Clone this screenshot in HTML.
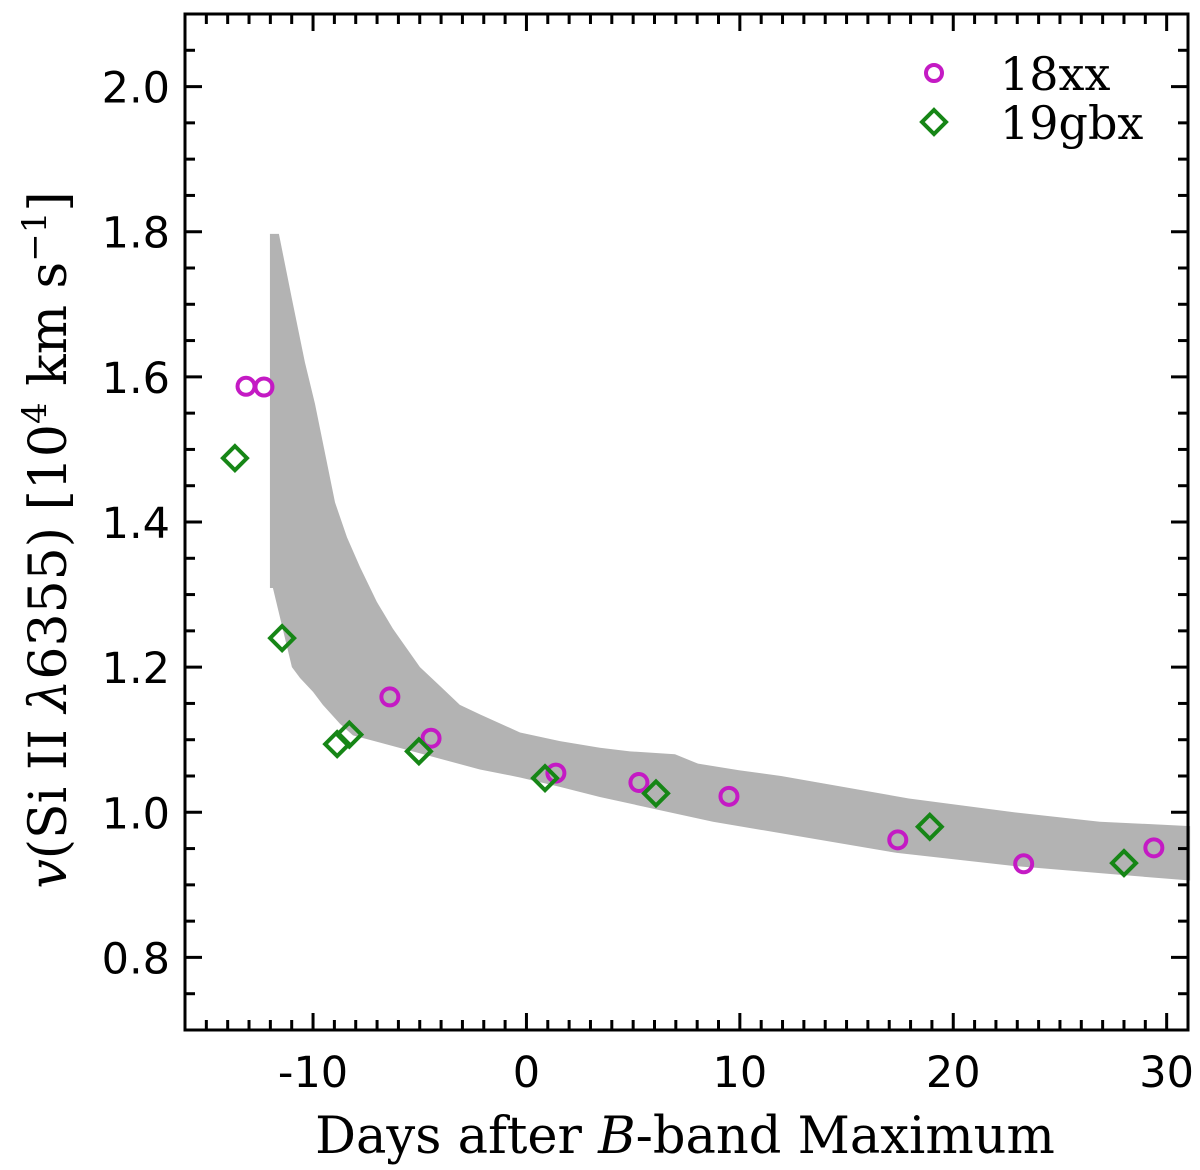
<!DOCTYPE html>
<html><head><meta charset="utf-8"><style>
body{margin:0;background:#fff}
svg{display:block}
</style></head><body>
<svg id="chart" width="1200" height="1170" xmlns="http://www.w3.org/2000/svg">
<g id="band"></g>
<g id="pts"></g>
<rect x="185" y="14" width="1003" height="1016" fill="none" stroke="#000" stroke-width="3"/>
<g id="ticks"></g>
<g>
<circle cx="934" cy="73" r="8" fill="none" stroke="#c41ac4" stroke-width="4"/>
<text x="1000" y="90" font-family="DejaVu Serif, serif" font-size="46">18xx</text>
<polygon points="934,110 946,122 934,134 922,122" fill="none" stroke="#168616" stroke-width="4"/>
<text x="1000" y="139" font-family="DejaVu Serif, serif" font-size="46">19gbx</text>
</g>
<text x="685" y="1153" text-anchor="middle" font-family="DejaVu Serif, serif" font-size="51">Days after <tspan font-style="italic">B</tspan>-band Maximum</text>
<text transform="translate(66,540) rotate(-90)" text-anchor="middle" font-family="DejaVu Serif, serif" font-size="52"><tspan font-style="italic">v</tspan>(Si II <tspan font-style="italic">λ</tspan>6355) [10<tspan baseline-shift="super" font-size="34">4</tspan> km s<tspan baseline-shift="super" font-size="34">−1</tspan>]</text>
</svg>
<script>
const bandUpperX=[-12.02,-11.6,-11.0,-10.38,-9.91,-8.97,-8.41,-7.80,-7.01,-6.26,-4.99,-4.05,-3.12,-2.18,-0.30,1.57,3.44,4.85,6.96,8.04,9.96,11.93,17.92,22.84,26.87,31.1];
const bandUpperY=[1.797,1.797,1.709,1.620,1.563,1.427,1.379,1.338,1.290,1.253,1.200,1.174,1.148,1.135,1.110,1.098,1.089,1.084,1.080,1.067,1.058,1.050,1.019,1.000,0.987,0.981];
const bandLowerX=[31.1,28.14,22.84,17.36,8.74,3.44,1.57,-0.30,-2.18,-8.13,-8.74,-9.54,-10.0,-10.61,-10.99,-11.88,-12.02];
const bandLowerY=[0.906,0.913,0.926,0.944,0.987,1.021,1.035,1.048,1.059,1.106,1.122,1.148,1.166,1.185,1.200,1.309,1.309];
const sn18xxX=[-13.14,-12.3,-6.4,-4.47,1.38,5.27,9.49,17.4,23.3,29.4];
const sn18xxY=[1.587,1.586,1.159,1.102,1.054,1.041,1.022,0.962,0.929,0.951];
const sn19gbxX=[-13.66,-11.45,-8.87,-8.3,-5.04,0.87,6.07,18.9,28.0];
const sn19gbxY=[1.488,1.240,1.094,1.107,1.084,1.047,1.026,0.980,0.930];
const xTicks=[-10,0,10,20,30];
const xTickLabels=["-10","0","10","20","30"];
const yTicks=[0.8,1.0,1.2,1.4,1.6,1.8,2.0];
const yTickLabels=["0.8","1.0","1.2","1.4","1.6","1.8","2.0"];

const X0=185,X1=1188,Y0=1030,Y1=14,xmin=-16,xmax=31,ymin=0.7,ymax=2.1;
const sx=v=>X0+(v-xmin)/(xmax-xmin)*(X1-X0);
const sy=v=>Y0-(v-ymin)/(ymax-ymin)*(Y0-Y1);
const NS="http://www.w3.org/2000/svg";
function mk(tag,parent){const e=document.createElementNS(NS,tag);parent.appendChild(e);return e;}

const band=document.getElementById('band');
const poly=mk('polygon',band);


let pts=[];
bandUpperX.forEach((x,i)=>pts.push(sx(x)+','+sy(bandUpperY[i])));
bandLowerX.forEach((x,i)=>pts.push(sx(x)+','+sy(bandLowerY[i])));
poly.setAttribute('points',pts.join(' '));
poly.setAttribute('fill','#b3b3b3');

const g=document.getElementById('pts');
sn18xxX.forEach((x,i)=>{
  const c=mk('circle',g);
  
  
  c.setAttribute('cx',sx(x));c.setAttribute('cy',sy(sn18xxY[i]));c.setAttribute('r',8.5);
  c.setAttribute('fill','none');c.setAttribute('stroke','#c41ac4');c.setAttribute('stroke-width',4);
});
sn19gbxX.forEach((x,i)=>{
  const px=sx(x),py=sy(sn19gbxY[i]),d=12;
  const p=mk('polygon',g);
  
  
  p.setAttribute('points',`${px},${py-d} ${px+d},${py} ${px},${py+d} ${px-d},${py}`);
  p.setAttribute('fill','none');p.setAttribute('stroke','#168616');p.setAttribute('stroke-width',4);
});

const t=document.getElementById('ticks');
function line(x1,y1,x2,y2){const l=mk('line',t);l.setAttribute('x1',x1);l.setAttribute('y1',y1);l.setAttribute('x2',x2);l.setAttribute('y2',y2);l.setAttribute('stroke','#000');l.setAttribute('stroke-width',3);}
for(let d=xmin;d<=xmax;d++){const L=(d%10===0)?17:10;const x=sx(d);line(x,Y0,x,Y0-L);line(x,Y1,x,Y1+L);}
for(let k=14;k<=42;k++){const v=k*0.05;const L=(k%4===0)?17:10;const y=sy(v);line(X0,y,X0+L,y);line(X1,y,X1-L,y);}
xTicks.forEach((v,i)=>{const e=mk('text',t);
  
  
  e.setAttribute('x',sx(v));e.setAttribute('y',1087);e.setAttribute('text-anchor','middle');
  e.setAttribute('font-family','DejaVu Sans, sans-serif');e.setAttribute('font-size',43);e.textContent=xTickLabels[i];});
yTicks.forEach((v,i)=>{const e=mk('text',t);
  
  
  e.setAttribute('x',170);e.setAttribute('y',sy(v)+16);e.setAttribute('text-anchor','end');
  e.setAttribute('font-family','DejaVu Sans, sans-serif');e.setAttribute('font-size',43);e.textContent=yTickLabels[i];});
</script>
</body></html>
